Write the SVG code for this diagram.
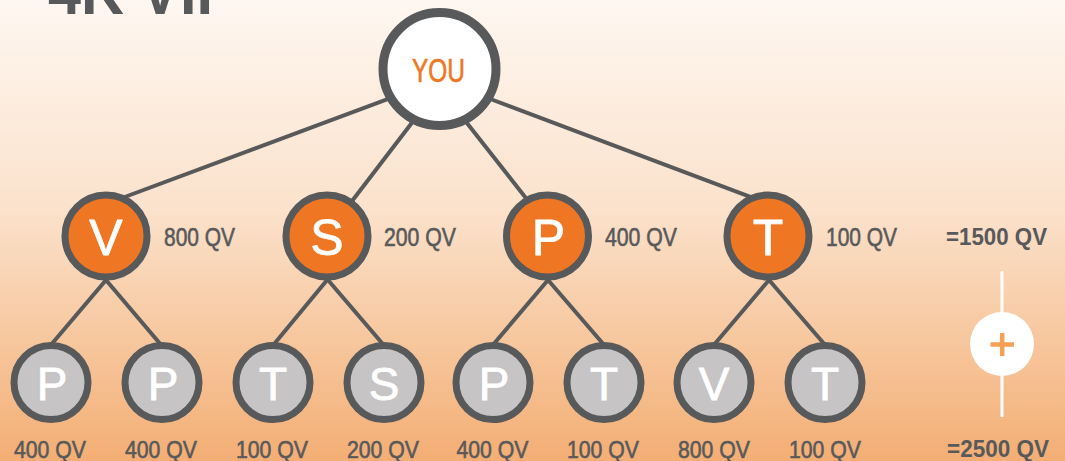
<svg xmlns="http://www.w3.org/2000/svg" width="1065" height="461" viewBox="0 0 1065 461">
  <defs>
    <linearGradient id="bg" x1="0" y1="0" x2="0" y2="1">
      <stop offset="0" stop-color="#fef7f1"/>
      <stop offset="0.45" stop-color="#fbe2cc"/>
      <stop offset="1" stop-color="#f3ae74"/>
    </linearGradient>
  </defs>
  <style>
    .edge { stroke: #58595b; stroke-width: 4; fill: none; }
    .you { fill: #ffffff; stroke: #58595b; stroke-width: 9; }
    .lvl1 { fill: #ef7622; stroke: #58595b; stroke-width: 7; }
    .lvl2 { fill: #c6c4c5; stroke: #58595b; stroke-width: 7; }
    .letter1 { font-family: "Liberation Sans", Arial, sans-serif; font-size: 50px; fill: #ffffff; stroke: #ffffff; stroke-width: 0.8; text-anchor: middle; }
    .letter2 { font-family: "Liberation Sans", Arial, sans-serif; font-size: 46px; fill: #ffffff; stroke: #ffffff; stroke-width: 0.8; text-anchor: middle; }
    .qv { font-family: "Liberation Sans Narrow", "Liberation Sans", Arial, sans-serif; font-size: 25px; fill: #58595b; stroke: #58595b; stroke-width: 0.6; }
    .qvb { font-family: "Liberation Sans Narrow", "Liberation Sans", Arial, sans-serif; font-size: 24px; fill: #58595b; stroke: #58595b; stroke-width: 0.6; text-anchor: middle; }
    .sum { font-family: "Liberation Sans Narrow", "Liberation Sans", Arial, sans-serif; font-size: 23px; font-weight: bold; fill: #58595b; }
  </style>
  <rect x="0" y="0" width="1065" height="461" fill="url(#bg)"/>

  <text x="48" y="13.5" font-family="'Liberation Sans Narrow', 'Liberation Sans', Arial, sans-serif" font-size="68" font-weight="bold" fill="#58595b" textLength="188" lengthAdjust="spacingAndGlyphs">4K VIP</text>

  <g id="connectors">
    <line class="edge" x1="118" y1="199.5" x2="395" y2="96.3"/>
    <line class="edge" x1="349" y1="205" x2="415" y2="118.7"/>
    <line class="edge" x1="529" y1="202" x2="463" y2="118"/>
    <line class="edge" x1="757" y1="199.3" x2="485" y2="97"/>

    <line class="edge" x1="109" y1="276.5" x2="50" y2="346"/>
    <line class="edge" x1="103" y1="276.5" x2="162" y2="346"/>
    <line class="edge" x1="330" y1="276.5" x2="272.5" y2="346"/>
    <line class="edge" x1="325" y1="276.5" x2="384.5" y2="346"/>
    <line class="edge" x1="551" y1="276.5" x2="492" y2="346"/>
    <line class="edge" x1="545" y1="276.5" x2="605" y2="346"/>
    <line class="edge" x1="772" y1="276.5" x2="713" y2="346"/>
    <line class="edge" x1="766" y1="276.5" x2="826" y2="346"/>
  </g>

  <g id="node-you">
    <circle class="you" cx="439.5" cy="69" r="56.5"/>
    <text x="438.5" y="81.5" font-family="'Liberation Sans Narrow', 'Liberation Sans', Arial, sans-serif" font-size="34" fill="#ef7622" stroke="#ef7622" stroke-width="0.6" text-anchor="middle" textLength="53" lengthAdjust="spacingAndGlyphs">YOU</text>
  </g>

  <g id="node-v1">
    <circle class="lvl1" cx="106" cy="236" r="41"/>
    <text class="letter1" x="106" y="255">V</text>
    <text class="qv" x="164" y="246" textLength="71" lengthAdjust="spacingAndGlyphs">800 QV</text>
  </g>
  <g id="node-s1">
    <circle class="lvl1" cx="327" cy="236" r="41"/>
    <text class="letter1" x="327" y="255">S</text>
    <text class="qv" x="384" y="246" textLength="72" lengthAdjust="spacingAndGlyphs">200 QV</text>
  </g>
  <g id="node-p1">
    <circle class="lvl1" cx="547.5" cy="236" r="41"/>
    <text class="letter1" x="548.5" y="255">P</text>
    <text class="qv" x="605" y="246" textLength="72" lengthAdjust="spacingAndGlyphs">400 QV</text>
  </g>
  <g id="node-t1">
    <circle class="lvl1" cx="768" cy="236" r="41"/>
    <text class="letter1" x="768" y="255">T</text>
    <text class="qv" x="826" y="246" textLength="71" lengthAdjust="spacingAndGlyphs">100 QV</text>
  </g>

  <g id="node-p2a">
    <circle class="lvl2" cx="51" cy="382.5" r="37"/>
    <text class="letter2" x="52" y="399.5">P</text>
    <text class="qvb" x="50" y="457.5" textLength="72" lengthAdjust="spacingAndGlyphs">400 QV</text>
  </g>
  <g id="node-p2b">
    <circle class="lvl2" cx="162" cy="382.5" r="37"/>
    <text class="letter2" x="163" y="399.5">P</text>
    <text class="qvb" x="161" y="457.5" textLength="72" lengthAdjust="spacingAndGlyphs">400 QV</text>
  </g>
  <g id="node-t2a">
    <circle class="lvl2" cx="273" cy="382.5" r="37"/>
    <text class="letter2" x="273" y="399.5">T</text>
    <text class="qvb" x="272" y="457.5" textLength="72" lengthAdjust="spacingAndGlyphs">100 QV</text>
  </g>
  <g id="node-s2">
    <circle class="lvl2" cx="384" cy="382.5" r="37"/>
    <text class="letter2" x="384" y="399.5">S</text>
    <text class="qvb" x="383" y="457.5" textLength="72" lengthAdjust="spacingAndGlyphs">200 QV</text>
  </g>
  <g id="node-p2c">
    <circle class="lvl2" cx="493" cy="382.5" r="37"/>
    <text class="letter2" x="494" y="399.5">P</text>
    <text class="qvb" x="492.5" y="457.5" textLength="72" lengthAdjust="spacingAndGlyphs">400 QV</text>
  </g>
  <g id="node-t2b">
    <circle class="lvl2" cx="604" cy="382.5" r="37"/>
    <text class="letter2" x="604" y="399.5">T</text>
    <text class="qvb" x="603" y="457.5" textLength="72" lengthAdjust="spacingAndGlyphs">100 QV</text>
  </g>
  <g id="node-v2">
    <circle class="lvl2" cx="714" cy="382.5" r="37"/>
    <text class="letter2" x="714" y="399.5">V</text>
    <text class="qvb" x="714" y="457.5" textLength="72" lengthAdjust="spacingAndGlyphs">800 QV</text>
  </g>
  <g id="node-t2c">
    <circle class="lvl2" cx="825" cy="382.5" r="37"/>
    <text class="letter2" x="825" y="399.5">T</text>
    <text class="qvb" x="825" y="457.5" textLength="72" lengthAdjust="spacingAndGlyphs">100 QV</text>
  </g>

  <g id="totals">
    <text class="sum" x="946" y="245" textLength="101" lengthAdjust="spacingAndGlyphs">=1500 QV</text>
    <line x1="1002" y1="271" x2="1002" y2="417" stroke="#ffffff" stroke-width="3"/>
    <circle cx="1002" cy="344" r="32" fill="#ffffff"/>
    <path d="M990.5 344.5 H1014 M1002.2 333 V356" stroke="#f4a155" stroke-width="4.5" fill="none"/>
    <text class="sum" x="947" y="457" textLength="102" lengthAdjust="spacingAndGlyphs">=2500 QV</text>
  </g>
</svg>
